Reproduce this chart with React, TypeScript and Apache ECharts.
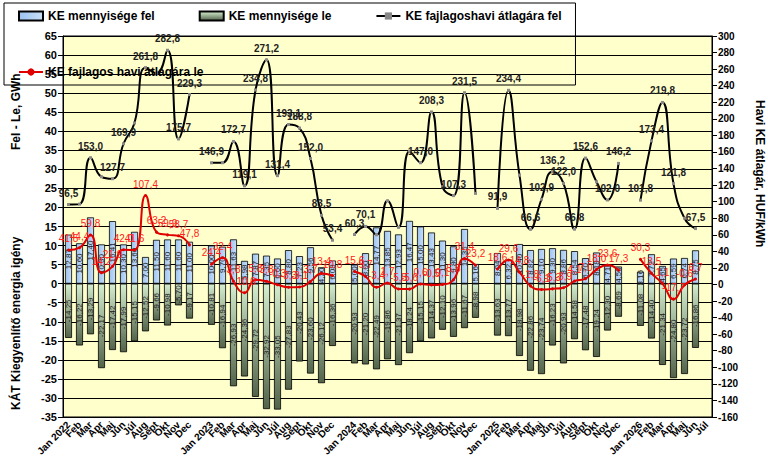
import React, { useEffect, useRef } from "react";
import * as echarts from "echarts";

const months = ["Jan", "Feb", "Mar", "Apr", "Maj", "Jún", "Júl", "Aug", "Sept", "Okt", "Nov", "Dec"];
const years = [2022, 2023, 2024, 2025, 2026];

const categories: string[] = [];
years.forEach((y, yi) => {
  const n = y === 2026 ? 7 : 12;
  for (let m = 0; m < n; m++) categories.push(m === 0 ? `Jan ${y}` : months[m]);
  if (yi < years.length - 1) categories.push("");
});

const upValues = [
  12.87, 10.6, 17.4, 10.3, 16.41, 10.3, 13.6, 7.0, 11.5, 11.6, 11.6, 11.0, null,
  10.0, 9.7, 11.63, 5.98, 7.87, 7.35, 6.6, 8.8, 7.23, 9.56, 4.3, 6.08, null,
  5.0, 8.0, 14.77, 13.85, 12.93, 16.47, 15.0, 13.43, 11.3, 9.8, 14.35, 5.16, null,
  8.04, 6.32, 10.4, 8.82, 9.1, 9.3, 8.86, 8.54, 6.7, 8.18, 4.71, 4.5, null,
  3.16, 7.72, 4.65, 6.59, 6.74, 8.75, null,
];

const downValues = [
  -14.25, -16.22, -13.29, -22.17, -17.42, -17.99, -15.15, -12.52, -9.66, -10.98, -5.7, -9.17, null,
  -10.81, -16.94, -26.93, -24.36, -29.72, -32.92, -33.05, -27.83, -20.43, -23.6, -26.12, -16.36, null,
  -20.93, -21.2, -22.49, -19.86, -21.37, -18.24, -15.15, -14.37, -12.1, -13.96, -11.67, -8.98, null,
  -13.63, -13.77, -18.98, -22.86, -23.74, -16.23, -20.93, -14.58, -17.48, -19.24, -12.3, -8.69, null,
  -11.08, -14.4, -21.34, -24.8, -23.72, -16.86, null,
];

const priceUp = [
  96.5, 97, 153.0, 130, 127.7, 169.9, 195, 261.8, 255, 282.8, 175.7, 229.3, null,
  146.9, 147, 172.7, 119.1, 234.8, 271.2, 131.4, 193.1, 188.8, 152.0, 83.5, 53.4, null,
  60.3, 70.1, 60, 101, 69, 161, 147.0, 208.3, 118, 107.3, 231.5, 110, null,
  91.9, 234.4, 132, 66.6, 102.9, 136.2, 122.0, 66.8, 152.6, 124, 102.0, 146.2, null,
  101.8, 173.4, 219.8, 121.8, 80, 67.5, null,
];
// points of the black line that carry no value label in the picture
const priceUpUnlabelled = [1, 3, 6, 8, 14, 28, 29, 30, 31, 34, 37, 41, 48, 56];

const priceDown = [
  41.5, 44.4, 59.8, 14.2, 21.9, 42.0, 41.6, 107.4, 63.2, 59.9, 58.7, 47.8, null,
  24.4, 32.4, 3.8, -10.0, 5.8, 3.8, -0.3, -3.3, -3.1, 3.7, 13.4, 10.8, null,
  15.6, 9.7, -3.4, 1.7, -5.5, -5.6, 0.6, -0.5, 0.1, 5.8, 31.4, 23.2, null,
  18.6, 29.6, 14.8, -1.8, -6.1, -5.3, -3.9, 4.1, 7.0, 18.0, 23.6, 17.3, null,
  30.3, 13.5, 1.1, -17.7, -0.6, 6.7, null,
];

const comma = (v: number, d: number) => v.toFixed(d).replace(".", ",");
const font = "Liberation Sans";

const App: React.FC = () => {
  const ref = useRef<HTMLDivElement>(null);

  useEffect(() => {
    if (!ref.current) return;
    const chart = echarts.init(ref.current, undefined, { renderer: "svg" });

    const barLabel = {
      show: true,
      position: "inside" as const,
      rotate: 90,
      fontSize: 8,
      fontFamily: font,
      color: "#1a1a1a",
      formatter: (p: any) => comma(p.value, 2),
    };

    chart.setOption({
      animation: false,
      backgroundColor: "#fff",
      textStyle: { fontFamily: font },
      legend: {
        top: 3,
        left: 4,
        width: 762,
        padding: [7, 14],
        itemGap: 44,
        borderColor: "#000",
        borderWidth: 1,
        itemWidth: 24,
        itemHeight: 9,
        textStyle: { fontSize: 12, fontWeight: "bold", color: "#000", fontFamily: font },
        data: [
          { name: "KE mennyisége fel", icon: "rect" },
          { name: "KE mennyisége le", icon: "rect" },
          { name: "KE fajlagoshavi átlagára fel" },
          { name: "KE fajlagos havi átlagára le" },
        ],
      },
      grid: { left: 63, right: 56, top: 36, bottom: 57, backgroundColor: "#FFFFCC", show: true, borderColor: "#000", borderWidth: 1 },
      xAxis: {
        type: "category",
        data: categories,
        axisLine: { lineStyle: { color: "#000" } },
        axisTick: { interval: 0, lineStyle: { color: "#000" } },
        axisLabel: { interval: 0, rotate: 45, fontSize: 10, fontWeight: "bold", color: "#000", margin: 6 },
      },
      yAxis: [
        {
          type: "value",
          min: -35,
          max: 65,
          interval: 5,
          axisLine: { show: true, lineStyle: { color: "#000" } },
          axisTick: { show: true },
          splitLine: { lineStyle: { color: "#000", width: 1 } },
          axisLabel: { fontSize: 11, fontWeight: "bold", color: "#000", margin: 6 },
        },
        {
          type: "value",
          min: -160,
          max: 300,
          interval: 20,
          axisLine: { show: true, lineStyle: { color: "#000" } },
          axisTick: { show: true },
          splitLine: { show: false },
          axisLabel: { fontSize: 10, fontWeight: "bold", color: "#000", margin: 6 },
        },
      ],
      graphic: [
        {
          type: "text",
          x: 10,
          y: 410,
          rotation: Math.PI / 2,
          style: { text: "KÁT Kiegyenlítő energia igény", fontSize: 12, fontWeight: "bold", fill: "#000", fontFamily: font },
        },
        {
          type: "text",
          x: 10,
          y: 150,
          rotation: Math.PI / 2,
          style: { text: "Fel - Le, GWh", fontSize: 12, fontWeight: "bold", fill: "#000", fontFamily: font },
        },
        {
          type: "text",
          x: 766,
          y: 100,
          rotation: -Math.PI / 2,
          style: { text: "Havi KE átlagár, HUF/kWh", fontSize: 12, fontWeight: "bold", fill: "#000", fontFamily: font },
        },
      ],
      series: [
        {
          name: "KE mennyisége fel",
          type: "bar",
          stack: "q",
          barWidth: 7,
          data: upValues,
          itemStyle: {
            borderColor: "#000",
            borderWidth: 0.8,
            color: new echarts.graphic.LinearGradient(0, 0, 1, 0, [
              { offset: 0, color: "#9cc3f0" },
              { offset: 1, color: "#c8def8" },
            ]),
          },
          label: barLabel,
        },
        {
          name: "KE mennyisége le",
          type: "bar",
          stack: "q",
          barWidth: 7,
          data: downValues,
          itemStyle: {
            borderColor: "#000",
            borderWidth: 0.8,
            color: new echarts.graphic.LinearGradient(0, 0, 0, 1, [
              { offset: 0, color: "#d6efd0" },
              { offset: 1, color: "#52634a" },
            ]),
          },
          label: barLabel,
        },
        {
          name: "KE fajlagoshavi átlagára fel",
          type: "line",
          yAxisIndex: 1,
          smooth: true,
          connectNulls: false,
          data: priceUp.map((v, i) =>
            priceUpUnlabelled.includes(i) ? { value: v, label: { show: false } } : v
          ),
          symbol: "rect",
          symbolSize: 3,
          lineStyle: { color: "#000", width: 2 },
          itemStyle: { color: "#888" },
          label: {
            show: true,
            position: "top",
            fontSize: 10,
            fontWeight: "bold",
            color: "#222",
            formatter: (p: any) => comma(p.value, 1),
          },
        },
        {
          name: "KE fajlagos havi átlagára le",
          type: "line",
          yAxisIndex: 1,
          smooth: true,
          connectNulls: false,
          data: priceDown,
          symbol: "circle",
          symbolSize: 3,
          lineStyle: { color: "#e00000", width: 2 },
          itemStyle: { color: "#e00000" },
          label: {
            show: true,
            position: "top",
            fontSize: 10,
            color: "#ff2020",
            formatter: (p: any) => comma(p.value, 1),
          },
        },
      ],
    });

    return () => chart.dispose();
  }, []);

  return <div ref={ref} style={{ position: "absolute", left: 0, top: 0, width: 768, height: 474 }} />;
};

export default App;
